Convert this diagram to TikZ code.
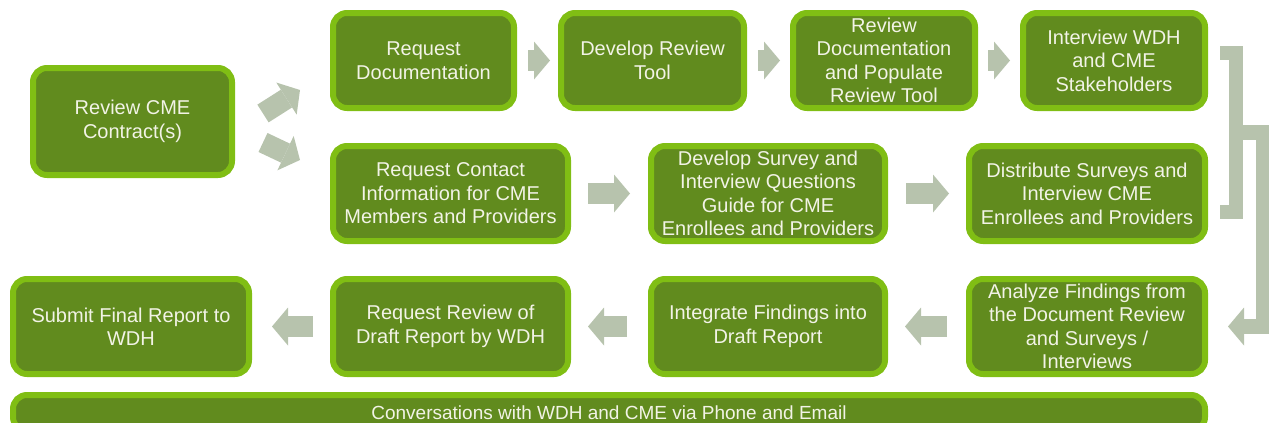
\documentclass[tikz,border=0pt]{standalone}
\usepackage{fontspec}
\setmainfont{Liberation Sans}
\usetikzlibrary{calc,arrows.meta}
\definecolor{boxfill}{RGB}{97,139,30}
\definecolor{boxrim}{RGB}{128,190,20}
\definecolor{flowgray}{RGB}{183,195,173}
\definecolor{boxtext}{RGB}{242,243,230}

\begin{document}
\begin{tikzpicture}[x=1pt,y=-1pt,
  stepbox/.style={draw=boxrim,fill=boxfill,line width=6pt,rounded corners=14pt,
    text=boxtext,align=center,inner sep=0pt,font=\fontsize{20}{23.5}\selectfont},
  flow/.style={draw=flowgray,line width=21pt,
    -{Triangle[width=38pt,length=16pt,line width=0pt]}},
  bracket/.style={draw=flowgray,line width=14pt}]
\useasboundingbox (0,0) rectangle (1269,423);
\node[stepbox,minimum width=199pt,minimum height=107pt] (review) at (132.5,121.5) {Review CME\\Contract(s)};
\node[stepbox,minimum width=181pt,minimum height=95pt] (reqdoc) at (423.5,60.5) {Request\\Documentation};
\node[stepbox,minimum width=183pt,minimum height=95pt] (devtool) at (652.5,60.5) {Develop Review\\Tool};
\node[stepbox,minimum width=182pt,minimum height=95pt] (revdoc) at (884,60.5) {Review\\Documentation\\and Populate\\Review Tool};
\node[stepbox,minimum width=182pt,minimum height=95pt] (intv) at (1114,60.5) {Interview WDH\\and CME\\Stakeholders};
\node[stepbox,minimum width=235pt,minimum height=95pt] (reqcontact) at (450.5,193.5) {Request Contact\\Information for CME\\Members and Providers};
\node[stepbox,minimum width=234pt,minimum height=95pt] (devsurvey) at (768,193.5) {Develop Survey and\\Interview Questions\\Guide for CME\\Enrollees and Providers};
\node[stepbox,minimum width=236pt,minimum height=95pt] (distrib) at (1087,193.5) {Distribute Surveys and\\Interview CME\\Enrollees and Providers};
\node[stepbox,minimum width=236pt,minimum height=95pt] (submit) at (131,326.5) {Submit Final Report to\\WDH};
\node[stepbox,minimum width=235pt,minimum height=95pt] (reqreview) at (450.5,326.5) {Request Review of\\Draft Report by WDH};
\node[stepbox,minimum width=234pt,minimum height=95pt] (integrate) at (768,326.5) {Integrate Findings into\\Draft Report};
\node[stepbox,minimum width=236pt,minimum height=95pt] (analyze) at (1087,326.5) {Analyze Findings from\\the Document Review\\and Surveys /\\Interviews};
\node[stepbox,minimum width=1192pt,minimum height=36pt,anchor=north,font=\fontsize{19}{23}\selectfont] (talk) at (609,392) {Conversations with WDH and CME via Phone and Email};

\draw[flow] ($(review.east)+(28,-8)$) -- ($(reqdoc.west)+(-30,29.5)$);
\draw[flow] ($(review.east)+(28,21)$) -- ($(reqcontact.west)+(-30,-33.5)$);
\draw[flow,shorten <=11pt,shorten >=8pt] (reqdoc) -- (devtool);
\draw[flow,shorten <=11pt,shorten >=10pt] (devtool) -- (revdoc);
\draw[flow,shorten <=10pt,shorten >=10pt] (revdoc) -- (intv);
\draw[flow,shorten <=17pt,shorten >=18pt] (reqcontact) -- (devsurvey);
\draw[flow,shorten <=18pt,shorten >=17pt] (devsurvey) -- (distrib);
\draw[flow,shorten <=19pt,shorten >=17pt] (analyze) -- (integrate);
\draw[flow,shorten <=21pt,shorten >=17pt] (integrate) -- (reqreview);
\draw[flow,shorten <=17pt,shorten >=20pt] (reqreview) -- (submit);

\coordinate (bt) at ($(intv.east)+(28,-8)$);
\coordinate (bb) at ($(distrib.east)+(28,18)$);
\draw[bracket] ($(bt)+(-16,0)$) -- (bt) -- (bb) -- ++(-16,0);
\draw[flow,line width=15pt] ($(bt)!0.5!(bb)$) -- ++(27,0) |- ($(analyze.east)+(20,0)$);
\end{tikzpicture}
\end{document}
